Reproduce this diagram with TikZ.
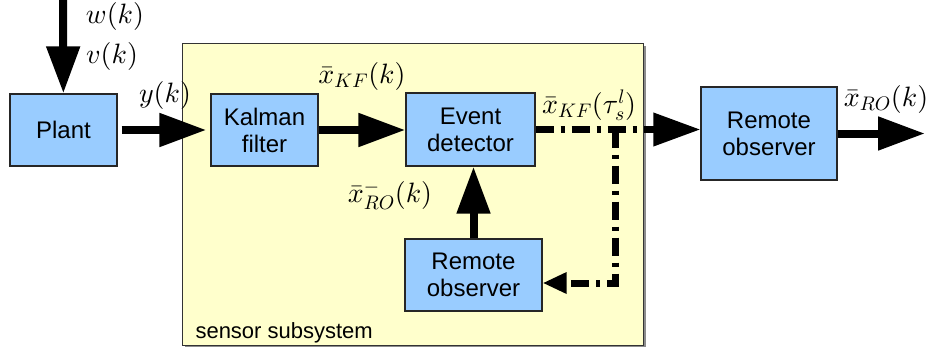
\documentclass[tikz,border=0pt]{standalone}
\usepackage{fontspec}
\setsansfont{Liberation Sans}
\DeclareFontShape{OML}{cmm}{m}{it}{<->cmmi10}{\skewchar\font=127}
\DeclareFontShape{OMS}{cmsy}{m}{n}{<->cmsy10}{\skewchar\font=48}
\DeclareFontShape{OT1}{cmr}{m}{n}{<->cmr10}{}
\usetikzlibrary{arrows.meta}
\definecolor{boxblue}{HTML}{99CCFF}
\definecolor{subyellow}{HTML}{FFFFCC}
\tikzset{
	block/.style = {draw = black!85, fill = boxblue, line width = 1.2pt, align = center, font = \sffamily\fontsize{24}{27}\selectfont},
	sig/.style = {font = \fontsize{28}{32}\selectfont, inner sep = 1pt},
	flow/.style = {line width = 8pt, -{Triangle[length = 47pt, width = 32pt]}},
	pulse/.style = {line width = 7pt, dash pattern = on 18pt off 7pt on 4pt off 7pt},
}
\begin{document}
\begin{tikzpicture}[x = 1pt, y = -1pt]
		\useasboundingbox (0, 0) rectangle (935, 354);
		\fill[black!45] (185, 46) rectangle (646, 347);
		\filldraw[fill = subyellow, draw = black!80, line width = 1pt] (182, 43) rectangle (643, 345);
		\node[anchor = base west, font = \sffamily\fontsize{22}{26}\selectfont] (sensorlabel) at (192, 338) {sensor subsystem};
		\node[block, minimum width = 107pt, minimum height = 72pt] (plant) at (63.5, 130) {Plant};
		\node[block, minimum width = 107pt, minimum height = 72pt] (kf) at (264.5, 130) {Kalman\\filter};
		\node[block, minimum width = 129pt, minimum height = 73pt] (ed) at (470.5, 129.5) {Event\\detector};
		\node[block, minimum width = 137pt, minimum height = 72pt] (ro2) at (473.5, 275) {Remote\\observer};
		\node[block, minimum width = 136pt, minimum height = 93pt] (ro1) at (769, 133.5) {Remote\\observer};
		\node[sig] (wk) at (115, 16) {$w(k)$};
		\node[sig] (vk) at (112, 56) {$v(k)$};
		\node[sig] (yk) at (165, 95) {$y(k)$};
		\node[sig] (xkf) at (362, 76) {$\bar{x}_{KF}(k)$};
		\node[sig] (xkftau) at (589, 105) {$\bar{x}_{KF}(\tau_s^l)$};
		\node[sig] (xro) at (886, 99) {$\bar{x}_{RO}(k)$};
		\node[sig] (xrominus) at (390, 195) {$\bar{x}_{RO}^{-}(k)$};
		\coordinate (noise) at (63, 0);
		\coordinate (branch) at (615, 0);
		\coordinate (estimate) at (925, 0);
		\draw[flow] (noise) -- (plant);
		\draw[flow, shorten < = 4pt, shorten > = 4pt] (plant) -- (kf);
		\draw[flow] (kf.east) -- (kf.east -| ed.west);
		\draw[flow] (ro2.north) -- (ro2.north |- ed.south);
		\draw[flow] (ro1.east) -- (ro1.east -| estimate);
		\draw[pulse, -{Triangle[length = 47pt, width = 32pt]}] (ed.east) -- (ro1.west |- ed.east);
		\draw[pulse, -{Triangle[length = 24pt, width = 20pt]}] (ed.east -| branch) -- ([yshift = -8pt]ro2.east -| branch) -- ([yshift = -8pt]ro2.east);
\end{tikzpicture}
\end{document}
